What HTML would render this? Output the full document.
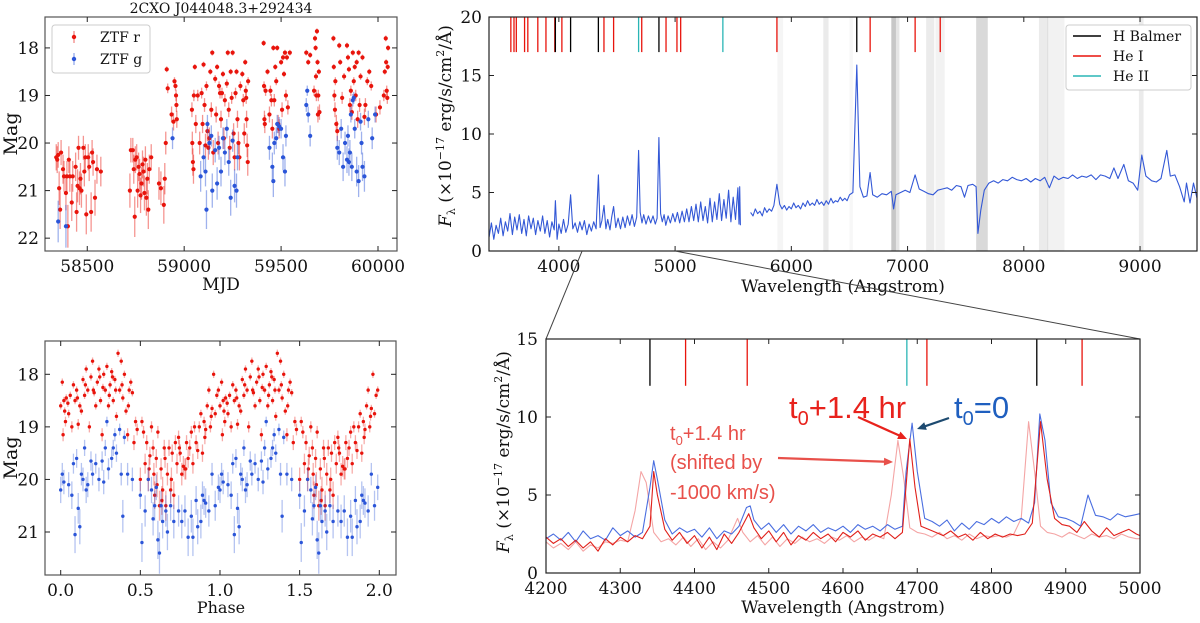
<!DOCTYPE html>
<html><head><meta charset="utf-8"><style>
html,body{margin:0;padding:0;background:#fff;}
svg{display:block;}
.s{font-family:"DejaVu Serif","Liberation Serif",serif;fill:#111;}
.a{font-family:"Liberation Sans",sans-serif;}
</style></head><body>
<svg id="fig" width="1200" height="623" viewBox="0 0 1200 623" xmlns="http://www.w3.org/2000/svg">
<g id="layer"></g>
</svg>
<script>
// ---------- light curve (MJD) ----------
const lcRMjd=[58340,58345,58350,58355,58360,58365,58375,58380,58390,58395,58400,58405,58410,58420,58425,58440,58445,58450,58455,58460,58465,58470,58480,58485,58490,58495,58505,58510,58520,58525,58530,58540,58550,58570,
58720,58725,58735,58740,58745,58748,58755,58760,58765,58770,58775,58780,58785,58790,58795,58800,58805,58810,58815,58820,58830,
58870,58880,58895,58900,58905,58910,58915,58935,58945,58950,58955,58958,58960,58962,
59040,59042,59045,59048,59050,59055,59060,59070,59080,59090,59095,59100,59105,59110,59115,59120,59125,59130,59135,59140,59145,59150,59160,59165,59170,59175,59180,59185,59190,59195,59200,59205,59210,59220,59225,59230,59235,59240,59245,59250,59255,59260,59265,59270,59275,59280,59285,59290,59300,59305,59310,59315,59318,59320,59322,59325,59328,59330,
59410,59412,59414,59416,59420,59430,59440,59445,59450,59455,59460,59465,59470,59475,59480,59485,59490,59500,59505,59510,59515,59520,59525,59530,59535,59545,
59630,59640,59650,59670,59675,59678,59680,59682,59685,59688,59690,59692,59695,59698,
59770,59772,59775,59778,59780,59785,59790,59800,59805,59815,59825,59840,59845,59850,59855,59860,59865,59870,59875,59880,59885,59890,59895,59900,59905,59910,59920,59930,59935,59945,59955,59965,
59990,60010,60030,60035,60040,60042,60045,60048,60050,60052];
const lcRMag=[20.3,20.35,20.25,20.95,21.4,20.2,20.55,20.7,21.05,20.7,21.75,20.35,20.7,21.25,20.7,20.5,21.45,20.9,20.1,20.95,20.75,21.0,20.1,20.6,20.3,21.5,20.3,20.5,21.45,20.2,20.4,21.15,20.55,20.6,
21.0,20.15,20.15,20.55,21.55,20.35,20.3,21.0,20.5,20.65,21.1,20.85,20.45,20.6,21.05,20.35,21.15,20.75,21.4,20.55,20.3,
20.85,20.95,21.3,20.75,20.0,18.45,18.85,19.4,19.55,18.7,18.8,19.0,19.2,19.5,
19.3,20.0,20.4,20.55,19.0,18.4,19.6,19.0,20.0,18.95,19.6,18.35,19.2,20.05,18.8,19.75,20.1,19.9,18.5,19.3,18.1,20.2,18.65,19.4,18.4,20.0,18.8,18.95,19.5,18.95,18.55,19.9,19.1,18.75,18.1,19.3,20.1,18.5,19.05,18.1,19.8,20.3,18.95,18.5,19.5,20.0,20.3,18.8,18.55,19.1,19.8,18.3,18.9,19.05,19.5,20.05,20.4,18.7,
17.9,18.8,19.5,19.6,18.9,18.5,19.4,18.9,19.1,19.7,18.0,19.1,18.4,18.7,18.0,19.6,19.7,18.3,19.3,18.2,18.55,18.1,19.0,18.2,19.25,18.1,
18.1,18.3,18.15,18.9,17.8,18.0,18.6,19.0,17.65,18.3,19.4,19.0,18.5,19.35,
17.8,18.4,19.0,19.3,18.7,19.6,19.75,17.95,18.3,19.05,18.6,17.95,18.2,18.45,19.2,18.9,19.35,18.1,18.7,18.4,19.0,18.3,19.5,18.1,19.2,18.6,18.2,19.45,19.2,18.7,18.5,18.8,
19.4,19.25,19.0,18.5,17.8,18.3,18.9,19.05,18.4,18.0];
const lcGMjd=[58350,58390,58940,59085,59100,59110,59115,59120,59130,59140,59145,59160,59170,59180,59190,59200,59210,59220,59230,59240,59250,59260,59270,59275,59440,59455,59460,59465,59475,59480,59490,59500,59510,59520,59525,59630,59635,59640,59650,59790,59800,59810,59820,59830,59840,59845,59850,59855,59860,59865,59870,59875,59880,59890,59900,59910,59915,59920,59930,59950,59970,59985];
const lcGMag=[21.65,21.75,19.9,20.7,20.3,20.6,21.4,19.6,20.0,19.85,21.0,20.15,20.85,20.1,20.6,19.9,20.2,19.7,20.4,21.15,19.95,20.9,21.0,20.3,20.1,20.5,20.8,20.0,19.9,19.6,19.65,19.7,20.3,20.6,19.85,19.2,18.9,19.4,19.85,20.1,20.2,19.7,20.5,20.0,20.35,19.85,20.4,20.2,19.4,20.5,19.1,19.05,19.7,20.6,20.8,19.55,20.0,20.5,20.7,19.5,19.9,19.4];
const mjdTicks=[58500,59000,59500,60000];
const magTicks=[18,19,20,21,22];
// ---------- phase-folded ----------
const phR=[0.00,0.01,0.015,0.02,0.03,0.035,0.045,0.05,0.06,0.07,0.08,0.09,0.10,0.11,0.12,0.13,0.14,0.15,0.16,0.17,0.18,0.19,0.20,0.21,0.22,0.23,0.24,0.25,0.26,0.27,0.28,0.29,0.30,0.31,0.32,0.33,0.34,0.35,0.36,0.37,0.38,0.39,0.40,0.41,0.42,0.43,0.44,0.45,0.46,0.47,0.48,0.50,0.51,0.52,0.53,0.54,0.55,0.56,0.57,0.58,0.59,0.60,0.61,0.62,0.63,0.64,0.65,0.66,0.67,0.68,0.69,0.70,0.71,0.72,0.73,0.74,0.75,0.76,0.77,0.78,0.79,0.80,0.81,0.82,0.83,0.84,0.85,0.86,0.87,0.88,0.89,0.90,0.91,0.92,0.93,0.94,0.95,0.96,0.97,0.98,0.99,0.025,0.105,0.155,0.205,0.245,0.265,0.305,0.325,0.345,0.385,0.425,0.555,0.585,0.605,0.635,0.655,0.695,0.745,0.785,0.905,0.945];
const phRMag=[18.6,18.15,19.15,18.5,18.9,18.45,18.55,18.75,18.4,19.0,18.2,18.5,18.3,18.95,18.6,18.7,18.1,18.4,17.9,18.3,19.0,18.05,17.75,18.35,18.6,18.15,17.9,18.5,19.15,18.0,18.3,17.85,18.6,18.2,17.95,18.5,18.1,18.8,17.6,18.3,17.75,18.45,18.0,18.7,19.15,18.3,18.15,18.35,19.3,18.9,19.05,20.0,18.9,19.1,19.7,19.3,20.0,19.55,19.0,19.4,20.3,19.6,19.1,20.5,19.8,20.2,19.4,20.5,19.9,19.4,20.2,19.5,20.3,19.3,19.7,19.2,19.5,19.9,19.75,19.8,19.3,19.6,19.4,19.1,19.7,19.0,19.3,19.45,19.0,18.75,19.5,18.9,19.05,18.6,18.3,19.0,18.65,18.0,18.75,18.4,18.3,18.7,18.45,18.2,18.3,18.05,18.25,18.4,18.05,18.3,18.2,18.6,19.8,19.9,20.1,20.4,19.6,20.0,19.4,19.8,19.2,18.8];
const phG=[0.00,0.01,0.02,0.05,0.07,0.08,0.09,0.10,0.11,0.12,0.13,0.14,0.15,0.16,0.17,0.19,0.20,0.22,0.24,0.26,0.27,0.28,0.29,0.30,0.32,0.33,0.34,0.35,0.37,0.38,0.39,0.40,0.42,0.45,0.50,0.51,0.53,0.55,0.57,0.58,0.59,0.60,0.61,0.62,0.63,0.64,0.66,0.67,0.69,0.71,0.74,0.76,0.78,0.80,0.82,0.83,0.85,0.86,0.88,0.89,0.90,0.91,0.93,0.95,0.97,0.99];
const phGMag=[20.2,19.9,20.05,20.1,20.3,19.7,21.05,19.6,20.55,20.9,19.9,20.0,19.4,20.2,20.1,19.65,19.9,19.7,20.0,19.65,20.05,19.4,18.9,19.8,19.6,19.4,19.15,19.5,19.05,19.9,20.7,19.2,19.9,20.0,20.3,21.2,20.6,20.0,20.2,20.75,20.5,20.15,21.15,21.4,20.5,20.8,20.6,21.0,20.5,20.8,20.6,20.8,20.6,21.1,20.7,21.1,20.4,20.9,20.8,20.3,20.4,20.45,20.6,19.9,20.5,20.15];
const phaseTicks=["0.0","0.5","1.0","1.5","2.0"];
const phMagTicks=[18,19,20,21];
// ---------- full spectrum ----------
const specWl=[3400,3420,3440,3460,3480,3500,3520,3540,3560,3580,3600,3620,3640,3660,3680,3700,3720,3740,3760,3780,3800,3820,3840,3860,3880,3900,3920,3940,3960,3970,3985,4000,4020,4040,4060,4080,4101,4120,4140,4160,4180,4200,4220,4240,4260,4280,4300,4320,4340,4355,4370,4388,4405,4420,4440,4455,4471,4490,4510,4530,4550,4570,4590,4610,4630,4650,4670,4686,4700,4715,4730,4750,4770,4790,4810,4830,4845,4861,4875,4890,4905,4920,4940,4960,4980,5000,5020,5040,5060,5080,5100,5120,5140,5160,5180,5200,5220,5240,5260,5280,5300,5320,5340,5360,5380,5400,5420,5440,5460,5480,5500,5520,5540,5550,5556,5562,5600,
5650,5670,5690,5710,5730,5750,5770,5790,5810,5830,5850,5876,5900,5920,5940,5960,5980,6000,6020,6040,6060,6080,6100,6120,6140,6160,6180,6200,6220,6240,6260,6280,6300,6320,6340,6360,6380,6400,6420,6440,6460,6480,6500,6530,6563,6590,6620,6650,6678,6700,6740,6780,6820,6860,6880,6900,6940,6980,7020,7065,7100,7140,7180,7220,7260,7300,7340,7380,7420,7460,7490,7520,7560,7590,7605,7630,7660,7700,7740,7780,7820,7860,7900,7940,7980,8020,8060,8100,8140,8180,8220,8260,8300,8340,8380,8420,8460,8500,8540,8580,8620,8660,8700,8740,8775,8810,8860,8900,8940,8980,9015,9050,9100,9140,9180,9230,9260,9300,9340,9380,9400,9430,9460,9490];
const specFlux=[1.2,2.4,1.0,2.2,1.5,2.8,1.3,2.5,1.7,3.2,1.4,2.9,1.8,3.1,1.5,2.7,1.3,3.0,1.9,2.8,1.4,2.6,1.7,3.0,1.5,2.6,1.2,2.5,1.8,4.3,1.0,2.3,1.5,2.7,1.6,2.3,4.8,1.9,2.4,1.6,2.5,1.8,2.6,1.4,2.3,1.7,2.5,1.9,6.5,2.0,2.6,3.9,1.9,2.7,1.8,2.9,3.8,2.0,2.8,1.9,2.9,2.0,3.0,2.2,3.1,2.1,2.9,8.6,3.3,2.4,3.1,2.3,3.0,2.4,3.0,2.3,2.8,9.7,3.2,2.5,3.1,2.2,3.0,2.4,3.2,2.5,3.3,2.4,3.4,2.5,3.6,2.5,3.8,2.6,4.0,2.5,4.2,2.6,3.8,2.4,4.5,2.5,4.2,2.7,4.9,2.6,4.4,2.8,5.2,2.5,4.6,2.7,5.4,2.3,5.5,2.2,null,
3.3,3.0,3.6,3.2,3.4,3.0,3.7,3.3,3.6,3.4,3.9,5.7,4.0,3.6,3.9,3.5,3.8,3.6,4.1,3.7,3.9,3.6,4.1,3.8,4.3,3.9,4.1,3.9,4.4,4.0,4.2,3.9,4.3,4.0,4.5,4.1,4.3,4.2,4.6,4.3,4.5,4.3,4.8,5.0,15.9,5.5,4.6,4.7,6.7,4.8,4.6,4.9,4.8,5.1,3.6,4.8,5.0,5.2,5.0,6.5,5.3,5.1,4.9,4.8,5.2,5.3,5.4,5.2,5.6,5.5,4.6,5.6,5.7,5.5,1.5,3.5,5.2,5.8,6.0,5.8,6.1,6.0,6.3,6.1,6.0,6.2,5.9,6.2,6.0,6.3,5.4,6.4,6.1,6.3,6.2,6.5,6.2,6.4,6.3,6.5,6.1,6.5,6.4,6.2,7.1,6.2,7.4,6.0,5.8,5.2,8.2,6.4,6.0,5.9,6.2,8.6,6.4,6.5,5.5,4.2,5.8,4.1,5.8,4.5];
const wlTicks=[4000,5000,6000,7000,8000,9000];
const fluxTicks=[0,5,10,15,20];
const balmerWl=[3970,4101,4340,4861,6563];
const heIWl=[3587,3614,3634,3705,3733,3819,3889,3965,4026,4388,4471,4713,4922,5016,5048,5876,6678,7065,7281];
const heIIWl=[4686,5411];
const telStart=[5880,6275,6500,6860,6900,7160,7240,7590,8130,8200,8990];
const telEnd=[5930,6320,6530,6900,6930,7230,7320,7690,8210,8350,9030];
const telShade=[0.04,0.08,0.03,0.22,0.1,0.08,0.05,0.15,0.08,0.05,0.08];
// ---------- zoomed spectra ----------
const blueWl=[4200,4210,4220,4230,4240,4250,4260,4270,4280,4290,4300,4310,4320,4330,4340,4345,4350,4360,4370,4380,4390,4400,4410,4420,4430,4440,4450,4460,4470,4475,4480,4490,4500,4510,4520,4530,4540,4550,4560,4570,4580,4590,4600,4610,4620,4630,4640,4650,4660,4670,4680,4685,4693,4700,4710,4720,4730,4740,4750,4760,4770,4780,4790,4800,4810,4820,4830,4840,4850,4858,4865,4872,4880,4890,4900,4910,4920,4930,4940,4950,4960,4970,4980,4990,5000];
const blueFlux=[2.2,2.5,2.1,2.6,2.0,2.7,2.2,2.4,2.1,2.9,2.4,2.7,2.3,2.6,5.5,7.2,6.0,3.4,2.5,2.9,2.6,2.8,2.3,2.9,2.2,2.7,2.5,3.0,4.2,4.3,3.4,2.8,3.2,2.6,3.1,2.5,3.0,2.7,3.1,2.6,2.9,2.7,3.0,2.6,3.1,2.8,3.0,2.7,3.1,2.8,3.0,6.5,9.6,6.5,3.5,3.3,3.0,3.4,2.7,3.2,2.8,3.3,3.1,3.5,3.2,3.6,3.3,3.5,3.2,4.5,10.2,8.5,4.5,3.6,3.5,3.3,3.0,5.0,3.7,3.6,3.4,3.8,3.6,3.7,3.8];
const redWl=[4200,4210,4220,4230,4240,4250,4260,4270,4280,4290,4300,4310,4320,4330,4340,4345,4350,4360,4370,4380,4390,4400,4410,4420,4430,4440,4450,4460,4473,4480,4490,4500,4510,4520,4530,4540,4550,4560,4570,4580,4590,4600,4610,4620,4630,4640,4650,4660,4670,4680,4690,4697,4705,4715,4725,4735,4745,4755,4765,4775,4785,4795,4805,4815,4825,4835,4845,4855,4866,4875,4885,4895,4905,4915,4925,4935,4945,4955,4965,4975,4985,4995,5000];
const redFlux=[2.3,1.9,2.2,1.7,2.1,1.6,2.0,1.4,2.2,1.8,2.3,2.0,2.4,2.2,3.0,6.5,5.0,2.8,2.1,2.6,1.9,2.4,1.6,2.3,1.5,2.5,1.9,2.6,3.8,2.9,2.2,2.7,2.0,2.6,1.8,2.4,2.1,2.6,2.2,2.5,2.0,2.6,2.3,2.7,2.1,2.5,2.3,2.6,2.2,2.6,8.6,5.5,3.0,2.8,2.6,2.4,2.7,2.3,2.5,2.1,2.6,2.2,2.5,2.3,2.5,2.4,2.5,3.2,9.7,6.0,3.5,3.1,3.0,2.6,3.3,2.7,2.3,2.9,2.4,2.6,2.8,2.5,2.4];
const pinkWl=[4200,4210,4220,4230,4240,4250,4260,4270,4280,4290,4300,4310,4320,4328,4335,4345,4355,4365,4375,4385,4395,4405,4415,4425,4435,4445,4458,4465,4475,4485,4495,4505,4515,4525,4535,4545,4555,4565,4575,4585,4595,4605,4615,4625,4635,4645,4655,4665,4674,4682,4690,4700,4710,4720,4730,4740,4750,4760,4770,4780,4790,4800,4810,4820,4830,4840,4850,4858,4866,4875,4885,4895,4905,4915,4925,4935,4945,4955,4965,4975,4985,4995,5000];
const pinkFlux=[2.0,1.6,1.9,1.5,2.0,1.4,1.8,1.6,2.0,1.9,2.1,2.0,4.0,6.5,5.8,2.6,2.0,2.2,1.8,2.3,1.7,2.2,1.5,2.0,1.6,2.1,3.5,2.6,2.0,2.4,1.8,2.3,1.7,2.2,1.9,2.3,2.0,2.2,1.9,2.3,2.1,2.4,2.0,2.3,2.1,2.4,2.2,5.0,8.5,6.0,2.9,2.6,2.5,2.3,2.6,2.2,2.4,2.1,2.5,2.2,2.4,2.3,2.4,2.3,2.5,3.5,9.7,6.5,3.0,2.6,2.5,2.3,2.6,2.4,2.2,2.5,2.3,2.4,2.2,2.5,2.3,2.2,2.2];
const zWlTicks=[4200,4300,4400,4500,4600,4700,4800,4900,5000];
const zFluxTicks=[0,5,10,15];
const zBalmer=[4340,4861];
const zHeI=[4388,4471,4713,4922];
const zHeII=[4686];
</script>
<script>
const NS="http://www.w3.org/2000/svg";
const L=document.getElementById('layer');
function mk(tag,attrs,parent){const e=document.createElementNS(NS,tag);for(const k in attrs)e.setAttribute(k,attrs[k]);(parent||L).appendChild(e);return e;}
function lin(d0,d1,r0,r1){return v=>r0+(v-d0)*(r1-r0)/(d1-d0);}
function txt(x,y,s,cls,anchor,size,parent,extra){const t=mk('text',Object.assign({x:x,y:y,'class':cls,'text-anchor':anchor,'font-size':size},extra||{}),parent);t.textContent=s;return t;}

function frame(g,x0,y0,x1,y1,col){mk('rect',{x:x0,y:y0,width:x1-x0,height:y1-y0,fill:'none',stroke:col,'stroke-width':1.2},g);}
function xTicks(g,vals,labels,sx,y0,y1,size,ly){vals.forEach((v,i)=>{const x=sx(v);
 const t1=mk('line',{x1:x,x2:x,y1:y1,y2:y1-5,stroke:'#222','stroke-width':1},g);
 mk('line',{x1:x,x2:x,y1:y0,y2:y0+5,stroke:'#222','stroke-width':1},g);
 const t=txt(x,ly,labels[i],'s','middle',size,g);});}
function yTicks(g,vals,labels,sy,x0,x1,size,lx){vals.forEach((v,i)=>{const y=sy(v);
 const t1=mk('line',{x1:x0,x2:x0+5,y1:y,y2:y,stroke:'#222','stroke-width':1},g);
 mk('line',{x1:x1,x2:x1-5,y1:y,y2:y,stroke:'#222','stroke-width':1},g);
 const t=txt(lx,y+6,labels[i],'s','end',size,g);});}
function pts(g,xs,ys,sx,sy,col,ecol,r,errf,name){xs.forEach((xv,i)=>{const x=sx(xv),y=sy(ys[i]);const e=errf(ys[i]);
 mk('line',{x1:x,x2:x,y1:sy(ys[i]-e),y2:sy(ys[i]+e),stroke:ecol,'stroke-width':1.3},g);
 const c=mk('circle',{cx:x,cy:y,r:r,fill:col},g);
 
 });}
function path(g,xs,ys,sx,sy,col,w,name,op){let d='',pen=false;xs.forEach((xv,i)=>{const v=ys[i];if(v===null){pen=false;return;}d+=(pen?'L':'M')+sx(xv).toFixed(1)+','+sy(v).toFixed(1);pen=true;});
 const p=mk('path',{d:d,fill:'none',stroke:col,'stroke-width':w,'stroke-linejoin':'round',opacity:op||1},g);
 
 return p;}

// ===== Panel 1: light curve =====
(function(){const g=mk('g',{});
 const X0=45,X1=397,Y0=17,Y1=251;
 const sx=lin(58282,60098,X0,X1), sy=lin(17.35,22.27,Y0,Y1);
 const t=txt(221,13,'2CXO J044048.3+292434','s','middle',14,g);
 const err=m=>0.06+0.12*Math.max(0,m-18.5);
 pts(g,lcRMjd,lcRMag,sx,sy,'#e8140c','rgba(232,20,12,0.45)',2.1,err,'ztf-r-point');
 pts(g,lcGMjd,lcGMag,sx,sy,'#2b55d8','rgba(43,85,216,0.45)',2.1,err,'ztf-g-point');
 frame(g,X0,Y0,X1,Y1,'#555');
 xTicks(g,mjdTicks,mjdTicks.map(String),sx,Y0,Y1,17,272);
 yTicks(g,magTicks,magTicks.map(String),sy,X0,X1,17,39);
 const xl=txt(221,290,'MJD','s','middle',17,g);
 const yl=txt(0,0,'Mag','s','middle',19,g,{transform:'translate(17,134) rotate(-90)'});
 const lg=mk('g',{},g);
 mk('rect',{x:52,y:25,width:98,height:48,rx:3,fill:'#fff',stroke:'#ccc'},lg);
 [['ZTF r','#e8140c',37],['ZTF g','#2b55d8',59]].forEach(e=>{const le=mk('g',{},lg);
  mk('line',{x1:74,x2:74,y1:e[2]-6,y2:e[2]+6,stroke:e[1],'stroke-opacity':0.5,'stroke-width':1.3},le);mk('circle',{cx:74,cy:e[2],r:2.2,fill:e[1]},le);txt(100,e[2]+5,e[0],'s','start',14,le);});
})();

// ===== Panel 3: phase =====
(function(){const g=mk('g',{});
 const X0=45,X1=396,Y0=341,Y1=575;
 const sx=lin(0,2,60.7,379.3), sy=lin(18,21,374.3,532);
 const err=m=>0.07+0.12*Math.max(0,m-18.7);
 [0,1].forEach(k=>{
  pts(g,phR.map(p=>p+k),phRMag,sx,sy,'#e8140c','rgba(232,20,12,0.35)',1.7,err,'phase-r-point');
  pts(g,phG.map(p=>p+k),phGMag,sx,sy,'#2b55d8','rgba(43,85,216,0.35)',1.7,err,'phase-g-point');});
 frame(g,X0,Y0,X1,Y1,'#555');
 xTicks(g,phaseTicks.map(Number),phaseTicks,sx,Y0,Y1,17,596);
 yTicks(g,phMagTicks,phMagTicks.map(String),sy,X0,X1,17,39);
 const xl=txt(221,613,'Phase','s','middle',16,g);
 const yl=txt(0,0,'Mag','s','middle',19,g,{transform:'translate(17,458) rotate(-90)'});
})();

// ===== Panel 2: full spectrum =====
(function(){const g=mk('g',{});
 const X0=489,X1=1197,Y0=17,Y1=251;
 const sx=lin(3399,9490,X0,X1), sy=lin(0,20,Y1,Y0);
 telStart.forEach((s,i)=>{const r=mk('rect',{x:sx(s),y:Y0,width:sx(telEnd[i])-sx(s),height:Y1-Y0,fill:'#000','fill-opacity':telShade[i]},g);
  });
 path(g,specWl,specFlux,sx,sy,'#3358d6',1.1,'spectrum-line');
 const lineSet=(arr,col,name)=>arr.forEach(w=>{const l=mk('line',{x1:sx(w),x2:sx(w),y1:sy(20),y2:sy(17),stroke:col,'stroke-width':1.3},g);
  });
 lineSet(heIWl,'#e8140c','he-i-line');lineSet(balmerWl,'#000','balmer-line');lineSet(heIIWl,'#2ab5b5','he-ii-line');
 frame(g,X0,Y0,X1,Y1,'#222');
 xTicks(g,wlTicks,wlTicks.map(String),sx,Y0,Y1,17,272);
 yTicks(g,fluxTicks,fluxTicks.map(String),sy,X0,X1,17,482);
 const xl=txt(843,292,'Wavelength (Angstrom)','s','middle',17,g);
 const yl=mk('text',{'class':'s','font-size':17,'text-anchor':'middle',transform:'translate(451,126) rotate(-90)'},g);
 
 yl.innerHTML='<tspan font-style="italic">F</tspan><tspan font-size="11" dy="4">λ</tspan><tspan dy="-4">  (×10</tspan><tspan font-size="11" dy="-7">−17</tspan><tspan dy="7"> erg/s/cm</tspan><tspan font-size="11" dy="-7">2</tspan><tspan dy="7">/Å)</tspan>';
 const lg=mk('g',{},g);
 mk('rect',{x:1066,y:25,width:125,height:65,rx:3,fill:'#fff',stroke:'#ccc'},lg);
 [['H Balmer','#000',36],['He I','#e8140c',56],['He II','#2ab5b5',76]].forEach(e=>{const le=mk('g',{},lg);
  mk('line',{x1:1073,x2:1101,y1:e[2],y2:e[2],stroke:e[1],'stroke-width':1.5},le);txt(1113,e[2]+5,e[0],'s','start',14,le);});
 const c1=mk('line',{x1:sx(4200),y1:Y1,x2:546,y2:339,stroke:'#444','stroke-width':1},g);
 const c2=mk('line',{x1:sx(5000),y1:Y1,x2:1140,y2:339,stroke:'#444','stroke-width':1},g);
})();

// ===== Panel 4: zoomed spectra =====
(function(){const g=mk('g',{});
 const X0=546,X1=1140,Y0=339,Y1=573;
 const sx=lin(4200,5000,X0,X1), sy=lin(0,15,Y1,Y0);
 path(g,pinkWl,pinkFlux,sx,sy,'#f4a5a5',1.1,'shifted-spectrum-line');
 path(g,blueWl,blueFlux,sx,sy,'#4a6ee0',1.1,'t0-spectrum-line');
 path(g,redWl,redFlux,sx,sy,'#e0201a',1.1,'t0-plus-1.4hr-spectrum-line');
 const lineSet=(arr,col,name)=>arr.forEach(w=>{const l=mk('line',{x1:sx(w),x2:sx(w),y1:sy(15),y2:sy(12),stroke:col,'stroke-width':1.3},g);
  });
 lineSet(zBalmer,'#000','balmer-line');lineSet(zHeI,'#e8140c','he-i-line');lineSet(zHeII,'#2ab5b5','he-ii-line');
 frame(g,X0,Y0,X1,Y1,'#222');
 xTicks(g,zWlTicks,zWlTicks.map(String),sx,Y0,Y1,17,594);
 yTicks(g,zFluxTicks,zFluxTicks.map(String),sy,X0,X1,17,538);
 const xl=txt(843,613,'Wavelength (Angstrom)','s','middle',17,g);
 const yl=mk('text',{'class':'s','font-size':17,'text-anchor':'middle',transform:'translate(509,452) rotate(-90)'},g);
 
 yl.innerHTML='<tspan font-style="italic">F</tspan><tspan font-size="11" dy="4">λ</tspan><tspan dy="-4">  (×10</tspan><tspan font-size="11" dy="-7">−17</tspan><tspan dy="7"> erg/s/cm</tspan><tspan font-size="11" dy="-7">2</tspan><tspan dy="7">/Å)</tspan>';
 const a=mk('g',{},g);
 const big=mk('text',{x:789,y:418,'class':'a','font-size':31,fill:'#e8221c'},a);
 big.innerHTML='t<tspan font-size="20" dy="7">0</tspan><tspan dy="-7">+1.4 hr</tspan>';
 const bl=mk('text',{x:954,y:418,'class':'a','font-size':31,fill:'#1f5fbf'},a);
 bl.innerHTML='t<tspan font-size="20" dy="7">0</tspan><tspan dy="-7">=0</tspan>';
 const sm=mk('text',{x:670,y:440,'class':'a','font-size':20,fill:'#e8504a'},a);
 sm.innerHTML='t<tspan font-size="13" dy="5">0</tspan><tspan dy="-5">+1.4 hr</tspan>';
 const s2=txt(670,469,'(shifted by','a','start',20,a,{fill:'#e8504a'});
 const s3=txt(670,499,'-1000 km/s)','a','start',20,a,{fill:'#e8504a'});
 const arrow=(x1,y1,x2,y2,col,w)=>{const ang=Math.atan2(y2-y1,x2-x1),h=9;
  const ar=mk('g',{},a);
  mk('line',{x1:x1,y1:y1,x2:x2-Math.cos(ang)*h*0.8,y2:y2-Math.sin(ang)*h*0.8,stroke:col,'stroke-width':w},ar);
  mk('polygon',{points:`${x2},${y2} ${x2-h*Math.cos(ang)+4*Math.sin(ang)},${y2-h*Math.sin(ang)-4*Math.cos(ang)} ${x2-h*Math.cos(ang)-4*Math.sin(ang)},${y2-h*Math.sin(ang)+4*Math.cos(ang)}`,fill:col},ar);};
 arrow(778,458,893,462,'#e8504a',2.2);
 arrow(858,417,907,439,'#e8221c',2.2);
 arrow(949,418,917,429,'#1d4a70',2.2);
})();
</script>
</body></html>
